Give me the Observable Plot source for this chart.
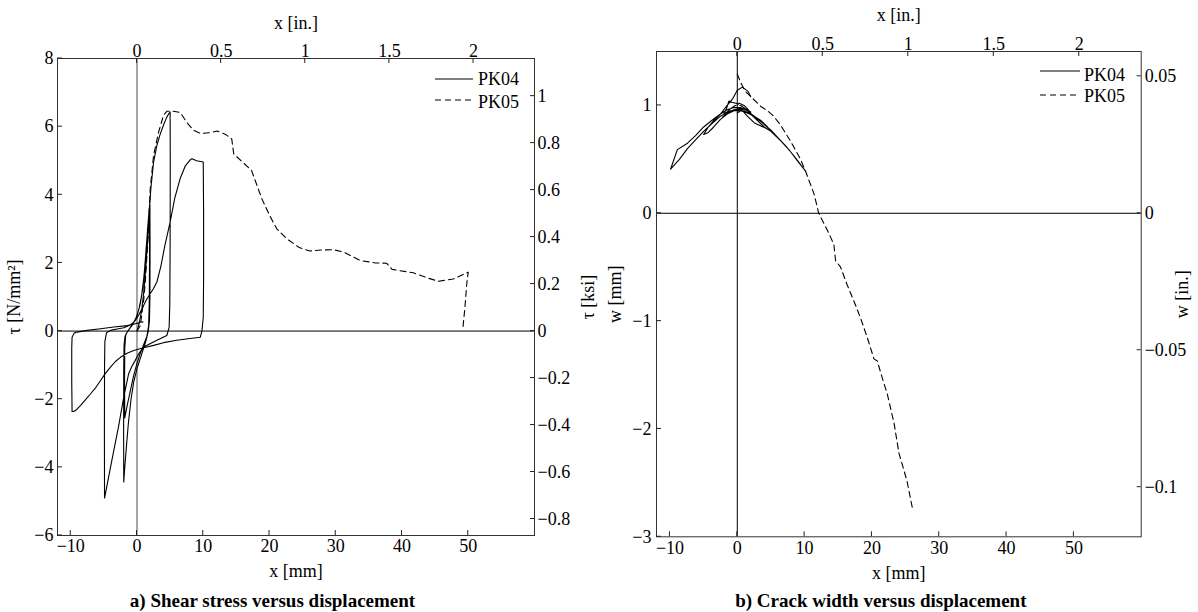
<!DOCTYPE html>
<html><head><meta charset="utf-8">
<script src="https://cdn.jsdelivr.net/npm/d3@7"></script>
<script src="https://cdn.jsdelivr.net/npm/@observablehq/plot@0.6"></script>
<style>
html,body{margin:0;padding:0;background:#fff;}
#wrap{display:flex;width:1198px;height:612px;overflow:hidden;}
svg{display:block;flex:none;}
</style></head><body><div id="wrap"></div>
<script>
const FONT = "'Liberation Serif', 'Times New Roman', serif";
const KSI = 6.895;   // N/mm² per ksi
const INCH = 25.4;   // mm per inch

// ---- axis ticks ----
const xTicksMm = [-10, 0, 10, 20, 30, 40, 50];
const xTicksIn = [0, 0.5, 1, 1.5, 2];
const tauTicks = [-6, -4, -2, 0, 2, 4, 6, 8];
const ksiTicks = [-0.8, -0.6, -0.4, -0.2, 0, 0.2, 0.4, 0.6, 0.8, 1];
const wTicks = [-3, -2, -1, 0, 1];
const wInTicks = [-0.1, -0.05, 0, 0.05];
const seriesNames = ["PK04", "PK05"];

// ---- a) shear stress tau [N/mm²] vs displacement x [mm] ----
const pk04Shear = [
 [0,0],[0.3,0.2],[0.7,0.6],[1.0,1.1],[1.3,1.8],[1.55,2.5],[1.75,3.1],[1.95,3.72],
 [1.97,2.5],[1.95,1.0],[1.88,0.3],[1.7,0.0],[1.4,-0.25],[1.0,-0.5],[0.5,-0.8],[0.0,-1.1],[-0.5,-1.5],[-0.9,-2.0],[-1.3,-2.7],[-1.6,-3.4],[-1.85,-4.0],[-2.0,-4.43],
 [-2.02,-3.0],[-2.0,-1.0],[-1.95,-0.4],[-1.8,-0.15],[-1.4,0.0],[-0.8,0.15],[-0.2,0.35],[0.3,0.65],[0.7,1.05],[1.05,1.6],[1.35,2.3],[1.6,3.0],[1.85,3.6],
 [1.9,2.2],[1.85,0.8],[1.75,0.15],[1.5,-0.15],[1.0,-0.4],[0.5,-0.65],[0.0,-0.95],[-0.5,-1.3],[-1.0,-1.75],[-1.5,-2.2],[-1.85,-2.55],
 [-1.88,-1.5],[-1.85,-0.5],[-1.7,-0.1],[-1.2,0.05],[-0.5,0.25],[0.0,0.45],[0.5,0.8],[0.9,1.3],[1.15,1.83],[1.45,2.6],[1.75,3.3],[2.1,4.2],[2.5,4.96],[3.0,5.45],[3.5,5.78],[4.0,6.05],[4.5,6.28],[4.8,6.38],[5.0,6.43],
 [5.02,5.0],[5.0,2.5],[4.95,0.8],[4.85,0.1],[4.5,-0.13],[3.0,-0.27],[1.0,-0.47],[0.3,-0.65],[-0.26,-0.86],[-0.8,-1.05],[-1.26,-1.25],[-2.0,-1.94],[-2.8,-2.82],[-3.5,-3.5],[-4.2,-4.2],[-4.9,-4.9],
 [-4.92,-3.0],[-4.9,-1.0],[-4.85,-0.3],[-4.6,-0.05],[-4.0,0.02],[-3.0,0.06],[-2.0,0.1],[-1.0,0.18],[-0.3,0.3],[0.2,0.45],[0.6,0.6],[1.5,0.95],[2.5,1.25],[3.0,1.44],[3.6,1.9],[4.2,2.5],[5.0,3.2],[5.7,3.9],[6.5,4.47],[7.3,4.85],[8.0,5.02],[8.3,5.06],[9.0,5.0],[10.0,4.96],
 [10.05,3.5],[10.05,1.5],[10.0,0.4],[9.8,0.0],[9.55,-0.18],[8.0,-0.22],[6.0,-0.27],[4.0,-0.34],[2.5,-0.42],[1.0,-0.49],[-0.5,-0.57],[-1.5,-0.65],[-2.5,-0.77],[-3.3,-0.9],[-4.0,-1.06],[-4.8,-1.25],[-5.5,-1.45],[-6.2,-1.65],[-7.0,-1.84],[-7.8,-2.02],[-8.5,-2.18],[-9.1,-2.3],[-9.55,-2.36],[-9.8,-2.36],
 [-9.85,-1.5],[-9.85,-0.5],[-9.8,-0.18],[-9.5,-0.06],[-9.05,-0.03],[-7.5,0.02],[-5.5,0.07],[-3.5,0.12],[-1.5,0.16],[-0.5,0.2],[0.5,0.26],[0.9,0.27]
];
const pk05Shear = [
 [0,0],[0.5,0.16],[1.0,0.9],[1.25,1.44],[1.75,3.0],[2.0,4.18],[2.5,5.15],[3.26,5.84],[4.0,6.33],[4.5,6.45],[5.5,6.45],[6.5,6.42],[7.5,6.13],[8.5,5.9],[9.6,5.8],[11,5.82],[12.1,5.87],[13.3,5.78],[14.3,5.64],[14.6,5.2],[16,4.95],[17.3,4.71],[18.85,3.88],[20,3.4],[21.1,3.0],[22.6,2.71],[24.5,2.45],[26.1,2.35],[28,2.38],[29.65,2.39],[31.2,2.32],[33.7,2.07],[36,2.0],[37.7,1.99],[38.5,1.81],[41.7,1.71],[44,1.55],[45.5,1.46],[47.75,1.53],[50.0,1.73],[49.8,1.44],[49.5,0.7],[49.2,0.1]
];

// ---- b) crack width w [mm] vs displacement x [mm] ----
const pk04Crack = [
 [0,0.93],[0.5,0.95],[1.0,0.97],[1.5,0.96],[2.0,0.93],[1.5,0.97],[1.0,1.0],[0.3,1.02],[-0.3,1.0],[-1.0,0.97],[-1.5,0.94],[-2.0,0.92],[-1.6,0.97],[-1.25,1.04],[-0.8,1.03],[-0.2,1.02],[0.5,1.0],[1.2,0.97],[2.0,0.94],[1.4,0.96],[0.8,0.97],[0,0.96],[-0.8,0.95],[-1.6,0.92],[-2.2,0.89],[-1.5,0.93],[-0.5,0.96],[0.5,0.97],[1.5,0.9],[2.5,0.84],[3.5,0.81],[4.2,0.79],[5.0,0.76],[4.5,0.8],[3.5,0.86],[2.5,0.9],[1.5,0.93],[0.5,0.95],[-0.5,0.95],[-1.5,0.92],[-2.5,0.87],[-3.5,0.8],[-4.3,0.75],[-5.0,0.73],[-4.3,0.8],[-3.5,0.86],[-2.5,0.92],[-1.5,0.96],[-0.5,0.98],[0.5,0.98],[1.5,0.95],[2.5,0.9],[3.7,0.84],[5.0,0.77],[6.2,0.69],[7.4,0.61],[8.7,0.51],[10.15,0.39],[9.0,0.48],[7.8,0.58],[6.5,0.67],[5.0,0.76],[4.0,0.8],[3.0,0.86],[2.0,0.92],[1.0,0.95],[0,0.96],[-1.0,0.95],[-2.5,0.9],[-3.8,0.83],[-5.0,0.76],[-6.2,0.68],[-7.4,0.6],[-8.6,0.5],[-9.9,0.41],[-8.9,0.59],[-7.4,0.65],[-6.2,0.72],[-5.0,0.8],[-3.8,0.86],[-2.5,0.92],[-1.5,1.0],[-0.7,1.06],[0,1.14],[0.75,1.17],[1.6,1.13],[2.0,1.08]
];
const pk05Crack = [
 [0,1.29],[0.6,1.2],[1.2,1.13],[2.2,1.07],[3.5,0.99],[4.5,0.95],[5.4,0.9],[6.4,0.82],[7.9,0.67],[9.4,0.5],[10.2,0.38],[11.4,0.18],[12.1,0.0],[13.4,-0.16],[14.35,-0.29],[14.6,-0.44],[15.35,-0.5],[16.3,-0.66],[17.3,-0.81],[18.3,-0.97],[19.3,-1.15],[20.3,-1.35],[20.8,-1.37],[21.5,-1.52],[22.3,-1.68],[23.3,-1.95],[24.0,-2.22],[25.2,-2.48],[26.0,-2.73]
];

// ---- helpers ----
const fmt = v => { const r = +(+v).toFixed(3); return (r < 0 ? "\u2212" : "") + String(Math.abs(r)); };
const px = d => d[0], py = d => d[1];
const TXT = {fontFamily: FONT, fontSize: 18, fill: "#000"};
const LBL = {...TXT, textAnchor: "middle", lineAnchor: "middle"};

function tickLabels(values, anchor, k, pad, format) {
  const opt = {anchor, tickSize: 0, tickPadding: pad, tickFormat: format, label: null, ...TXT};
  return k === "x" ? Plot.axisX(values, opt) : Plot.axisY(values, opt);
}
// inward (MATLAB-style) tick marks, positioned through the plot's own scales
function inwardTicks(svg, {bottom, top, left, right}) {
  const sx = svg.scale("x"), sy = svg.scale("y");
  const [xl, xr] = sx.range, [yb, yt] = sy.range;
  const g = d3.select(svg).append("g").attr("stroke", "#222").attr("stroke-width", 1);
  const seg = (x1, y1, x2, y2) => g.append("line").attr("x1", x1).attr("y1", y1).attr("x2", x2).attr("y2", y2);
  bottom.forEach(v => { const x = sx.apply(v); seg(x, yb, x, yb - 5); });
  top.forEach(v => { const x = sx.apply(v); seg(x, yt, x, yt + 5); });
  left.forEach(v => { const y = sy.apply(v); seg(xl, y, xl + 5, y); });
  right.forEach(v => { const y = sy.apply(v); seg(xr, y, xr - 4, y); });
}
function addLegend(svg, x0, x1, tx, ys, ts) {
  const g = d3.select(svg).append("g").attr("font-family", FONT).attr("font-size", 18).attr("text-anchor", "start");
  seriesNames.forEach((name, i) => {
    g.append("line").attr("x1", x0).attr("x2", x1).attr("y1", ys[i]).attr("y2", ys[i])
      .attr("stroke", "#000").attr("stroke-width", 1)
      .attr("stroke-dasharray", i === 1 ? "6,4" : null);
    g.append("text").attr("x", tx).attr("y", ts[i]).attr("fill", "#000").text(name);
  });
}

// ---- panel a ----
const svgA = Plot.plot({
  width: 600, height: 612,
  marginLeft: 57, marginRight: 66, marginTop: 58, marginBottom: 77,
  x: {domain: [-12, 60], axis: null},
  y: {domain: [-6, 8], axis: null},
  style: {fontFamily: FONT, fontSize: "18px", color: "#000", background: "#fff", overflow: "visible"},
  marks: [
    Plot.ruleY([0], {stroke: "#000", strokeWidth: 1}),
    Plot.ruleX([0], {stroke: "#777", strokeWidth: 1.3}),
    Plot.line(pk04Shear, {x: px, y: py, stroke: "#000", strokeWidth: 1.1}),
    Plot.line(pk05Shear, {x: px, y: py, stroke: "#000", strokeWidth: 1.1, strokeDasharray: "6,4"}),
    Plot.frame({stroke: "#333"}),
    tickLabels(xTicksMm, "bottom", "x", 4, fmt),
    tickLabels(xTicksIn.map(v => v * INCH), "top", "x", 1.5, d => fmt(Math.round(d / INCH * 100) / 100)),
    tickLabels(tauTicks, "left", "y", 4, fmt),
    tickLabels(ksiTicks.map(v => v * KSI), "right", "y", 3, d => fmt(Math.round(d / KSI * 100) / 100)),
    Plot.text(["x [mm]"], {text: d => d, frameAnchor: "bottom", dy: 36, ...LBL}),
    Plot.text(["x [in.]"], {text: d => d, frameAnchor: "top", dy: -35.5, ...LBL}),
    Plot.text(["τ [N/mm²]"], {text: d => d, frameAnchor: "left", dx: -43, rotate: -90, ...LBL}),
    Plot.text(["τ [ksi]"], {text: d => d, frameAnchor: "right", dx: 53.5, rotate: -90, ...LBL}),
    Plot.text(["a) Shear stress versus displacement"], {text: d => d, frameAnchor: "bottom", dx: -23.5, dy: 65, ...LBL, fontSize: 19, fontWeight: "bold"})
  ]
});
inwardTicks(svgA, {bottom: xTicksMm, top: xTicksIn.map(v => v * INCH), left: tauTicks, right: ksiTicks.map(v => v * KSI)});
addLegend(svgA, 435, 473, 478, [79, 100], [85, 108]);

// ---- panel b ----
const svgB = Plot.plot({
  width: 598, height: 612,
  marginLeft: 56, marginRight: 57.3, marginTop: 51, marginBottom: 75.7,
  x: {domain: [-12, 60], axis: null},
  y: {domain: [-3, 1.5], axis: null},
  style: {fontFamily: FONT, fontSize: "18px", color: "#000", background: "#fff", overflow: "visible"},
  marks: [
    Plot.ruleY([0], {stroke: "#000", strokeWidth: 1}),
    Plot.ruleX([0], {stroke: "#000", strokeWidth: 1}),
    Plot.line(pk04Crack, {x: px, y: py, stroke: "#000", strokeWidth: 1.1}),
    Plot.line(pk05Crack, {x: px, y: py, stroke: "#000", strokeWidth: 1.1, strokeDasharray: "6,4"}),
    Plot.frame({stroke: "#333"}),
    tickLabels(xTicksMm, "bottom", "x", 4, fmt),
    tickLabels(xTicksIn.map(v => v * INCH), "top", "x", 1.5, d => fmt(Math.round(d / INCH * 100) / 100)),
    tickLabels(wTicks, "left", "y", 5, fmt),
    tickLabels(wInTicks.map(v => v * INCH), "right", "y", 3.5, d => fmt(Math.round(d / INCH * 1000) / 1000)),
    Plot.text(["x [mm]"], {text: d => d, frameAnchor: "bottom", dy: 36, ...LBL}),
    Plot.text(["x [in.]"], {text: d => d, frameAnchor: "top", dy: -36.5, ...LBL}),
    Plot.text(["w [mm]"], {text: d => d, frameAnchor: "left", dx: -41, rotate: -90, ...LBL}),
    Plot.text(["w [in.]"], {text: d => d, frameAnchor: "right", dx: 41.3, rotate: -90, ...LBL}),
    Plot.text(["b) Crack width versus displacement"], {text: d => d, frameAnchor: "bottom", dx: -18, dy: 63.7, ...LBL, fontSize: 19, fontWeight: "bold"})
  ]
});
inwardTicks(svgB, {bottom: xTicksMm, top: xTicksIn.map(v => v * INCH), left: wTicks, right: wInTicks.map(v => v * INCH)});
addLegend(svgB, 440, 480, 484, [71, 95], [80.5, 101.5]);

document.getElementById("wrap").append(svgA, svgB);
</script>
</body></html>
